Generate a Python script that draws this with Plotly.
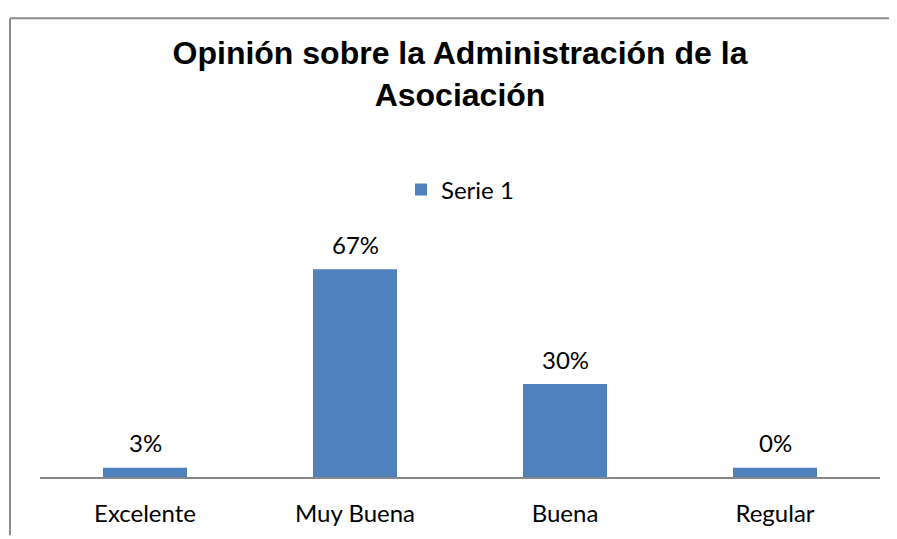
import plotly.graph_objects as go

categories = ["Excelente", "Muy Buena", "Buena", "Regular"]
values = [3, 67, 30, 3]
labels = ["3%", "67%", "30%", "0%"]
series_name = "Serie 1"
title = "Opinión sobre la Administración de la<br>Asociación"

# page body has an 8px margin, so the figure is drawn 8px smaller
OFF = 8
W, H = 897 - OFF, 539 - OFF
M = dict(l=32, r=17, t=221, b=57)
pw = W - M["l"] - M["r"]
ph = H - M["t"] - M["b"]

BODY = dict(family="Lato, Carlito, Calibri, sans-serif", color="#000000", size=24)

fig = go.Figure()
fig.add_trace(go.Bar(
    x=categories, y=values, name=series_name,
    marker=dict(color="#4F81BD", line=dict(width=0)),
    width=0.4, showlegend=True,
))

# data labels above the bars
for c, v, t in zip(categories, values, labels):
    fig.add_annotation(x=c, y=v, text=t, showarrow=False, yanchor="middle",
                       yshift=25, font=BODY)

# outer chart border (only top and left edges are visible in the crop)
bx0 = (10 - OFF - M["l"]) / pw
by1 = (H - (14 - OFF) - M["b"]) / ph
fig.add_shape(type="line", xref="paper", yref="paper", x0=bx0, x1=(W - M["l"]) / pw + 0.02,
              y0=by1, y1=by1, line=dict(color="#8c8c8c", width=2))
fig.add_shape(type="line", xref="paper", yref="paper", x0=bx0, x1=bx0,
              y0=-M["b"] / ph - 0.01, y1=by1, line=dict(color="#8c8c8c", width=2))

fig.update_layout(
    width=W, height=H, margin=M,
    paper_bgcolor="white", plot_bgcolor="white",
    font=BODY,
    title=dict(text=title, x=0.5, xref="paper", xanchor="center",
               y=(H - 56) / H, yanchor="middle",
               font=dict(family="Liberation Sans, Arial, sans-serif", size=32,
                         color="#000000", weight="bold")),
    legend=dict(orientation="h", x=0.5, xanchor="center", xref="paper",
                y=(H - 182) / H, yanchor="middle", yref="container",
                font=BODY, bgcolor="rgba(0,0,0,0)"),
    xaxis=dict(showline=True, linecolor="#878787", linewidth=2, showgrid=False,
               ticks="", ticklabelstandoff=14, tickfont=BODY),
    yaxis=dict(visible=False, range=[0, 80], showgrid=False, zeroline=False),
    bargap=0.6,
)

fig.write_html("out.html")
